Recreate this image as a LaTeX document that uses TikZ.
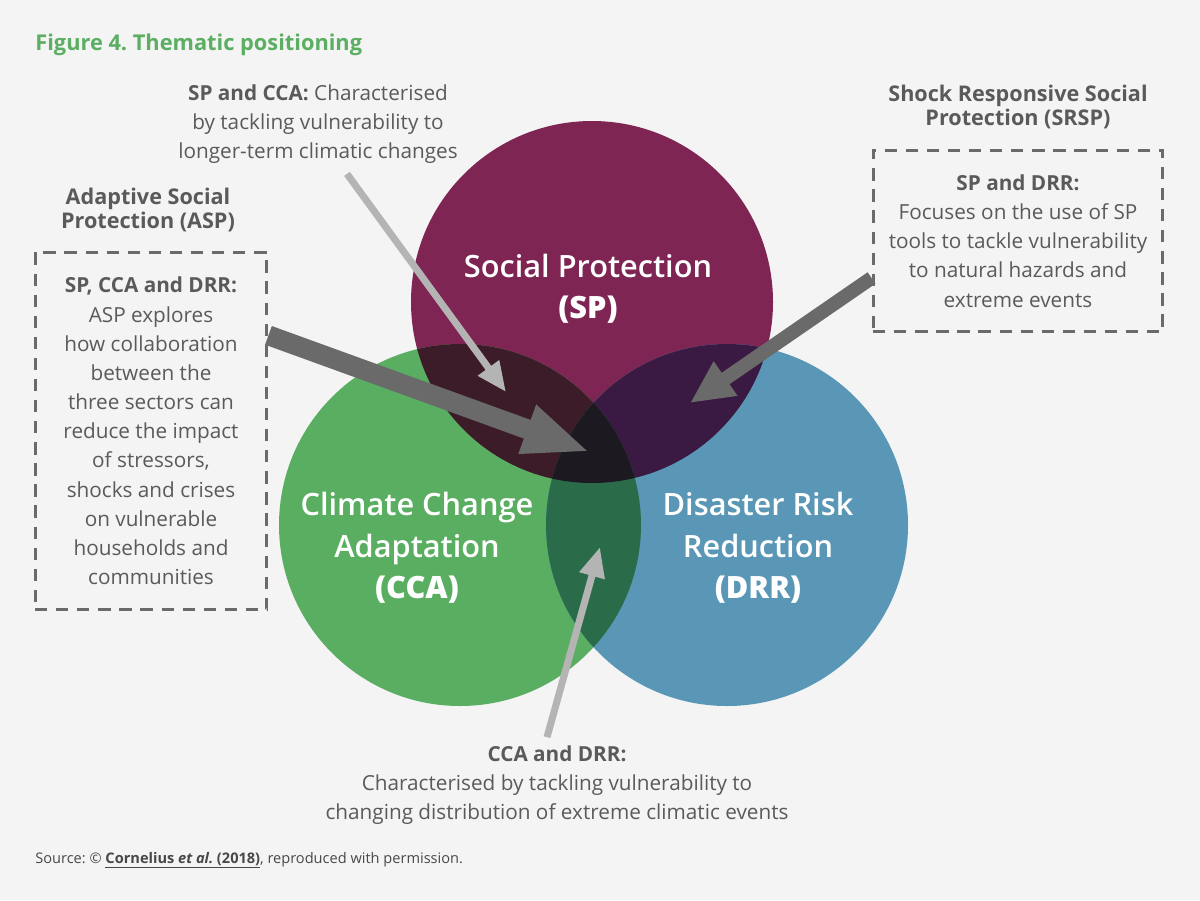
\documentclass[tikz,border=0pt]{standalone}
\usepackage{fontspec}
\setmainfont{Open Sans}
\newfontfamily\semifont{Open Sans Semibold}
\usetikzlibrary{arrows.meta,positioning,calc}

\definecolor{bgcol}{HTML}{F4F4F4}
\definecolor{txtcol}{HTML}{5A5A5A}
\definecolor{titlecol}{HTML}{5BAE62}
\definecolor{spcol}{HTML}{7E2553}
\definecolor{ccacol}{HTML}{5AAE62}
\definecolor{drrcol}{HTML}{5A97B6}
\definecolor{spccacol}{HTML}{3C1C28}
\definecolor{spdrrcol}{HTML}{3A1A42}
\definecolor{ccadrrcol}{HTML}{2A6B4A}
\definecolor{allcol}{HTML}{1C1A20}
\definecolor{darkarr}{HTML}{6A6A6A}
\definecolor{lightarr}{HTML}{B4B4B4}

\frenchspacing
\begin{document}
\begin{tikzpicture}[x=0.02cm, y=-0.02cm,
    txt/.style={text=txtcol, font=\fontsize{11.8}{16.6}\selectfont, align=center, inner sep=0pt},
    heading/.style={text=txtcol, font=\fontsize{12.3}{14.2}\selectfont\bfseries, align=center, inner sep=0pt},
    circlbl/.style={text=white, font=\fontsize{17.5}{23.5}\selectfont\semifont, align=center, inner sep=0pt},
    dashbox/.style={txt, draw=darkarr, line width=1.7pt, dash pattern=on 7pt off 5pt},
    bigarrow/.style={darkarr, -{Triangle[width=26.7pt, length=38pt]}},
    midarrow/.style={darkarr, line width=7.9pt, -{Triangle[width=22pt, length=24.6pt]}},
    thinarrow/.style={lightarr, line width=4pt, -{Triangle[width=14pt, length=17pt]}}
  ]
  % Canvas
  \fill[bgcol] (0,0) rectangle (1200,900);
  \useasboundingbox (0,0) rectangle (1200,900);

  % Circle centres
  \coordinate (sp) at (592,302);
  \coordinate (cca) at (460,525);
  \coordinate (drr) at (727,525);
  \def\rad{181}

  % The three sectors
  \fill[spcol] (sp) circle (\rad);
  \fill[ccacol] (cca) circle (\rad);
  \fill[drrcol] (drr) circle (\rad);

  % Overlaps
  \begin{scope}
    \clip (sp) circle (\rad);
    \fill[spccacol] (cca) circle (\rad);
    \fill[spdrrcol] (drr) circle (\rad);
  \end{scope}
  \begin{scope}
    \clip (cca) circle (\rad);
    \fill[ccadrrcol] (drr) circle (\rad);
    \clip (drr) circle (\rad);
    \fill[allcol] (sp) circle (\rad);
  \end{scope}

  % Sector names
  \node[circlbl] (splbl) at (588,289) {Social Protection\\\textbf{(SP)}};
  \node[circlbl] (ccalbl) at (417,548) {Climate Change\\Adaptation\\\textbf{(CCA)}};
  \node[circlbl] (drrlbl) at (758,548) {Disaster Risk\\Reduction\\\textbf{(DRR)}};

  % Title
  \node[anchor=base west, inner sep=0pt, text=titlecol, font=\fontsize{12.4}{14}\selectfont\bfseries] (title) at (35,50) {Figure 4. Thematic positioning};

  % SP and CCA
  \node[txt] (spcca) at (318,124) {\textbf{SP and CCA:} Characterised\\by tackling vulnerability to\\longer-term climatic changes};

  % ASP
  \node[heading] (asphead) at (148,210) {Adaptive Social\\Protection (ASP)};
  \node[dashbox, minimum width=4.64cm, minimum height=7.16cm] (aspbox) at (151,431)
    {\textbf{SP, CCA and DRR:}\\ASP explores\\how collaboration\\between the\\three sectors can\\reduce the impact\\of stressors,\\shocks and crises\\on vulnerable\\households and\\communities};

  % SRSP
  \node[heading] (srsphead) at (1018,107) {Shock Responsive Social\\Protection (SRSP)};
  \node[dashbox, minimum width=5.8cm, minimum height=3.64cm] (srspbox) at (1018,241)
    {\textbf{SP and DRR:}\\Focuses on the use of SP\\tools to tackle vulnerability\\to natural hazards and\\extreme events};

  % CCA and DRR
  \node[txt] (ccadrr) at (557,785) {\textbf{CCA and DRR:}\\Characterised by tackling vulnerability to\\changing distribution of extreme climatic events};

  % Arrow ends
  \coordinate (core) at (590,452);
  \coordinate (spccaend) at (506,392);
  \coordinate (spdrrend) at (690,403);
  \coordinate (ccadrrend) at (600,547);

  % Arrows
  \draw[bigarrow, line width=11.3pt] ($(aspbox.north east)!0.235!(aspbox.south east)$) -- (core);
  \draw[midarrow] ($(srspbox.north west)!0.70!(srspbox.south west)$) -- (spdrrend);
  \draw[thinarrow] ($(spcca.south)+(29,10)$) -- (spccaend);
  \draw[thinarrow] ($(ccadrr.north)+(-10,-8)$) -- (ccadrrend);

  % Source
  \node[anchor=base west, inner sep=0pt, text=txtcol!80!black, font=\fontsize{8.3}{10}\selectfont] (source) at (35,863)
    {Source: © \underline{\textbf{Cornelius \textit{et al.} (2018)}}, reproduced with permission.};
\end{tikzpicture}
\end{document}
